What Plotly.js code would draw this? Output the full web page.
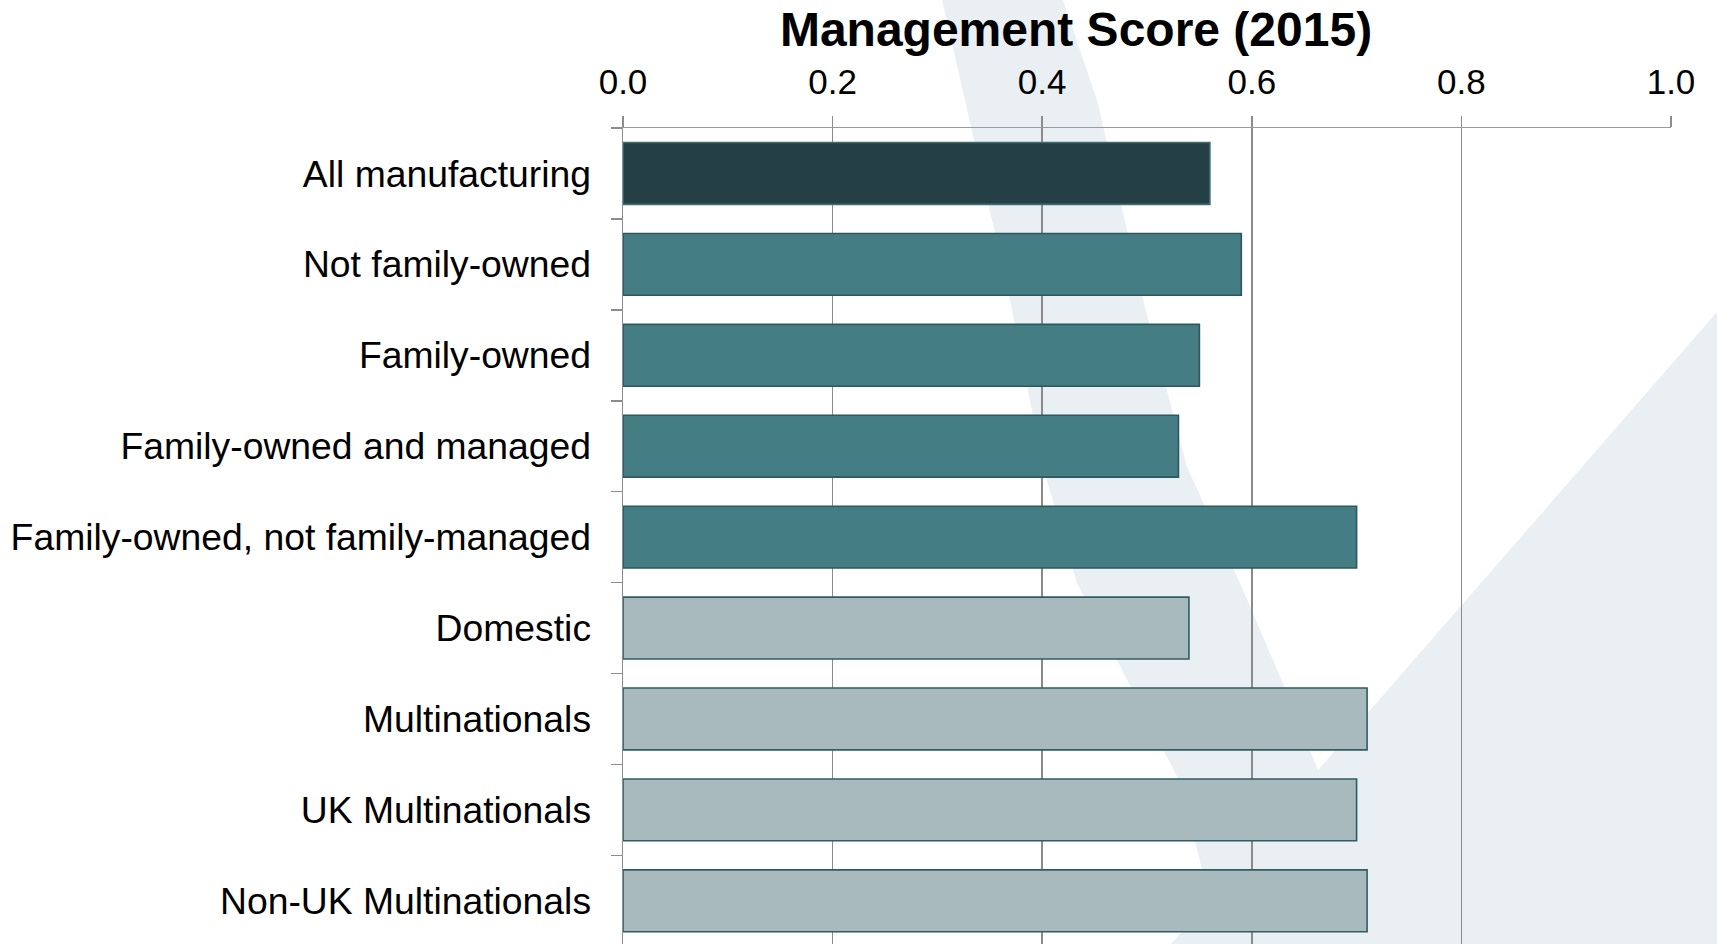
<!DOCTYPE html>
<html>
<head>
<meta charset="utf-8">
<script src="https://cdn.plot.ly/plotly-3.0.1.min.js"></script>
<style>
  html, body { margin: 0; padding: 0; background: #ffffff; }
  #chart { width: 1717px; height: 944px; }
</style>
</head>
<body>
<div id="chart"></div>
<script>
// ---- Data ----
const categories = [
  "All manufacturing",
  "Not family-owned",
  "Family-owned",
  "Family-owned and managed",
  "Family-owned, not family-managed",
  "Domestic",
  "Multinationals",
  "UK Multinationals",
  "Non-UK Multinationals"
];
const scores = [0.56, 0.59, 0.55, 0.53, 0.70, 0.54, 0.71, 0.70, 0.71];
const groups = ["all", "family", "family", "family", "family", "mne", "mne", "mne", "mne"];
const xTickValues = [0, 0.2, 0.4, 0.6, 0.8, 1.0];
const xTickLabels = ["0.0", "0.2", "0.4", "0.6", "0.8", "1.0"];
const chartTitle = "Management Score (2015)";

// ---- Styles ----
const fillByGroup = { all: "#243f45", family: "#447e84", mne: "#a8babd" };
const lineByGroup = { all: "#3e6c71", family: "#2c585c", mne: "#2f5d61" };

// plot area in pixels
const W = 1717, H = 944;
const L = 623, R = 1671, T = 128, B = 944;
const px = X => (X - L) / (R - L);
const py = Y => (B - Y) / (B - T);

// watermark (decorative background swoosh)
const wm = [[942,0],[1063,0],[1097,100],[1143,300],[1187,467],[1240,583],[1290,700],[1318,770],
            [1717,312],[1717,944],[1171,944],[1210,900],[1179,780],[1077,583],[1043,467],[1010,300],[965,100]];
const wmPath = "M " + wm.map(p => px(p[0]).toFixed(4) + "," + py(p[1]).toFixed(4)).join(" L ") + " Z";

const trace = {
  type: "bar",
  orientation: "h",
  y: categories,
  x: scores,
  width: 0.68,
  marker: {
    color: groups.map(g => fillByGroup[g]),
    line: { color: groups.map(g => lineByGroup[g]), width: 1.6 }
  },
  hoverinfo: "x+y",
  showlegend: false
};

const layout = {
  width: W,
  height: H,
  margin: { l: L, r: W - R, t: T, b: H - B, pad: 0 },
  paper_bgcolor: "#ffffff",
  plot_bgcolor: "rgba(0,0,0,0)",
  font: { family: "Liberation Sans, Arial, sans-serif", color: "#000000" },
  title: {
    text: "<b>" + chartTitle + "</b>",
    font: { family: "Liberation Sans, Arial, sans-serif", size: 48, color: "#000000" },
    xref: "container", yref: "container",
    x: 1076 / W, xanchor: "center",
    y: 1 - 29 / H, yanchor: "middle"
  },
  xaxis: {
    side: "top",
    range: [0, 1],
    tickvals: xTickValues,
    ticktext: xTickLabels,
    tickfont: { size: 35, color: "#000000" },
    ticks: "outside",
    ticklen: 11,
    tickwidth: 1.5,
    tickcolor: "#8c8c8c",
    ticklabelstandoff: 8,
    showline: true,
    linecolor: "#9a9a9a",
    linewidth: 1.5,
    showgrid: true,
    gridcolor: "#8a8a8a",
    gridwidth: 1.6,
    zeroline: false,
    fixedrange: true
  },
  yaxis: {
    type: "category",
    range: [8.475, -0.5],
    autorange: false,
    tickfont: { size: 37.3, color: "#000000" },
    ticks: "outside",
    tickson: "boundaries",
    ticklen: 11,
    tickwidth: 1.5,
    tickcolor: "#8c8c8c",
    ticklabelstandoff: 23,
    showline: true,
    linecolor: "#8c8c8c",
    linewidth: 1.5,
    showgrid: false,
    zeroline: false,
    fixedrange: true
  },
  bargap: 0.32,
  shapes: [
    {
      type: "path",
      xref: "paper", yref: "paper",
      path: wmPath,
      fillcolor: "#eaeff3",
      line: { width: 0 },
      layer: "below"
    }
  ]
};

Plotly.newPlot("chart", [trace], layout, { displayModeBar: false, staticPlot: true });
</script>
</body>
</html>
